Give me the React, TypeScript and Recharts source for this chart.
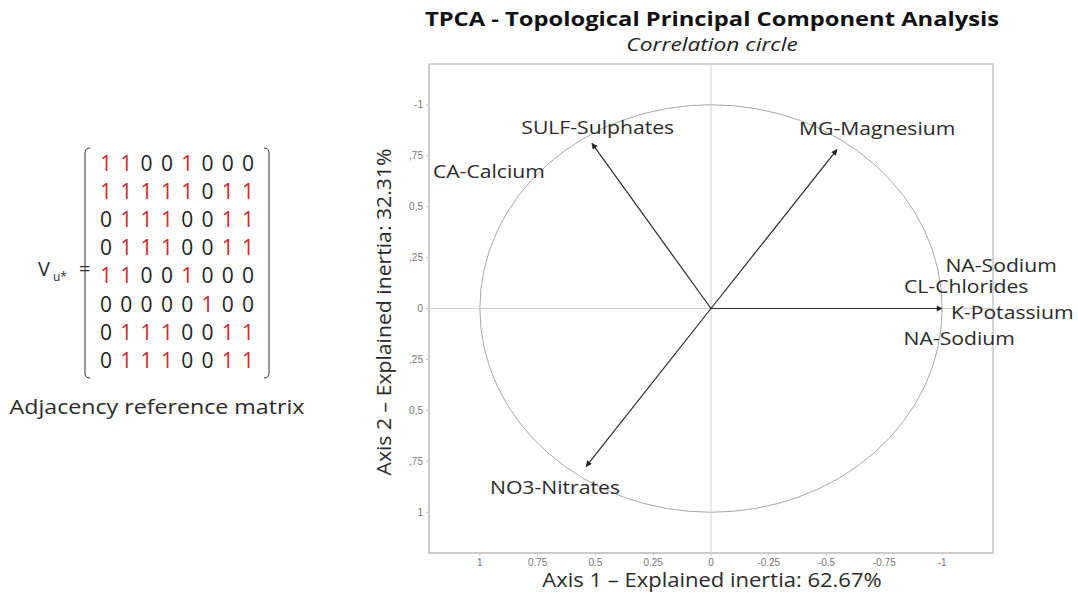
import React from 'react';
import {
  ComposedChart, XAxis, YAxis, Scatter, ReferenceLine, ReferenceArea, ReferenceDot,
} from 'recharts';

// ---- data ----
const vectorNames = ['SULF-Sulphates', 'MG-Magnesium', 'K-Potassium', 'NO3-Nitrates'];
const vectorX = [0.515, -0.545, -1.0, 0.54];
const vectorY = [-0.81, -0.78, 0.0, 0.775];

const labelTexts = ['SULF-Sulphates', 'CA-Calcium', 'MG-Magnesium', 'NA-Sodium', 'CL-Chlorides', 'K-Potassium', 'NA-Sodium', 'NO3-Nitrates'];
const labelX = [0.49, 0.961, -0.719, -1.255, -1.104, -1.303, -1.074, 0.675];
const labelY = [-0.892, -0.672, -0.887, -0.211, -0.108, 0.02, 0.147, 0.877];

const tickValues = [1, 0.75, 0.5, 0.25, 0, -0.25, -0.5, -0.75, -1];
const xTickLabels = ['1', '0.75', '0.5', '0.25', '0', '-0.25', '-0.5', '-0.75', '-1'];
const yTickValues = [-1, -0.75, -0.5, -0.25, 0, 0.25, 0.5, 0.75, 1];
const yTickLabels = ['-1', ',75', '0,5', ',25', '0', ',25', '0,5', ',75', '1'];

const matrix = [
  [1, 1, 0, 0, 1, 0, 0, 0],
  [1, 1, 1, 1, 1, 0, 1, 1],
  [0, 1, 1, 1, 0, 0, 1, 1],
  [0, 1, 1, 1, 0, 0, 1, 1],
  [1, 1, 0, 0, 1, 0, 0, 0],
  [0, 0, 0, 0, 0, 1, 0, 0],
  [0, 1, 1, 1, 0, 0, 1, 1],
  [0, 1, 1, 1, 0, 0, 1, 1],
];

const title = 'TPCA - Topological Principal Component Analysis';
const subtitle = 'Correlation circle';
const xTitle = 'Axis 1 \u2013 Explained inertia: 62.67%';
const yTitle = 'Axis 2 \u2013 Explained inertia: 32.31%';
const matrixCaption = 'Adjacency reference matrix';

const vectors = vectorNames.map((n, i) => ({ name: n, x: vectorX[i], y: vectorY[i] }));
const labels = labelTexts.map((t, i) => ({ text: t, x: labelX[i], y: labelY[i] }));

const FONT = "'Open Sans', sans-serif";
const RED = '#d2282e';
const TXT = '#2b2b2b';

export default function App() {
  return (
    <div style={{ position: 'absolute', left: 0, top: 0, width: 1078, height: 598, background: '#fff', fontFamily: FONT }}>
      <svg width={0} height={0} style={{ position: 'absolute' }}>
        <defs>
          <marker id="arr" viewBox="0 0 10 10" refX="9" refY="5" markerWidth="6" markerHeight="5" orient="auto">
            <path d="M0,0 L10,5 L0,10 z" fill="#222" />
          </marker>
        </defs>
      </svg>
      <div style={{ position: 'absolute', left: 0, top: 0 }}>
        <ComposedChart width={1078} height={598} margin={{ top: 64, right: 85, bottom: 25, left: 399 }}>
          <XAxis
            type="number"
            dataKey="x"
            domain={[-1.22, 1.22]}
            reversed
            ticks={tickValues}
            interval={0}
            tickFormatter={(v: number) => xTickLabels[tickValues.indexOf(v)] ?? String(v)}
            tick={{ fontSize: 10, fill: '#777', fontFamily: 'Liberation Sans, Arial' }}
            tickLine={{ stroke: '#ccc' }}
            tickSize={3}
            tickMargin={3}
            axisLine={{ stroke: '#c8c8c8', strokeWidth: 1.5 }}
            height={20}
            allowDataOverflow
          />
          <YAxis
            type="number"
            dataKey="y"
            domain={[-1.2, 1.2]}
            reversed
            ticks={yTickValues}
            interval={0}
            tickFormatter={(v: number) => yTickLabels[yTickValues.indexOf(v)] ?? String(v)}
            tick={{ fontSize: 10, fill: '#777', fontFamily: 'Liberation Sans, Arial' }}
            tickLine={{ stroke: '#ccc' }}
            tickSize={3}
            tickMargin={3}
            axisLine={{ stroke: '#c8c8c8', strokeWidth: 1.5 }}
            width={30}
            allowDataOverflow
          />
          <ReferenceArea x1={-1.22} x2={1.22} y1={-1.2} y2={1.2} fill="none" stroke="#c8c8c8" strokeWidth={1.5} ifOverflow="visible" />
          <ReferenceLine x={0} stroke="#d0d0d0" strokeWidth={1} />
          <ReferenceLine y={0} stroke="#d0d0d0" strokeWidth={1} />
          <ReferenceArea
            x1={-1}
            x2={1}
            y1={-1}
            y2={1}
            ifOverflow="visible"
            shape={(p: any) => (
              <ellipse
                cx={p.x + p.width / 2}
                cy={p.y + p.height / 2}
                rx={Math.abs(p.width) / 2}
                ry={Math.abs(p.height) / 2}
                fill="none"
                stroke="#a8a8a8"
                strokeWidth={1}
              />
            )}
          />
          {vectors.map((v) => (
            <ReferenceLine
              key={v.name}
              segment={[{ x: 0, y: 0 }, { x: v.x, y: v.y }]}
              ifOverflow="visible"
              shape={(p: any) => (
                <line x1={p.x1} y1={p.y1} x2={p.x2} y2={p.y2} stroke="#2a2a2a" strokeWidth={1.2} markerEnd="url(#arr)" />
              )}
            />
          ))}
          {labels.map((l, i) => (
            <ReferenceDot
              key={i}
              x={l.x}
              y={l.y}
              r={0}
              ifOverflow="visible"
              shape={(p: any) => (
                <text
                  transform={`translate(${p.cx},${p.cy}) scale(1.21,1)`}
                  textAnchor="middle"
                  dominantBaseline="central"
                  fontSize={17.5}
                  fill={TXT}
                  fontFamily={FONT}
                >
                  {l.text}
                </text>
              )}
            />
          ))}
          <Scatter data={vectors} dataKey="y" shape={() => null} isAnimationActive={false} />
        </ComposedChart>
      </div>
      <svg width={1078} height={598} style={{ position: 'absolute', left: 0, top: 0, pointerEvents: 'none' }}>
        <text transform="translate(712,26) scale(1.25,1)" textAnchor="middle" fontSize={19} fontWeight="bold" fill="#111" fontFamily={FONT}>{title}</text>
        <text transform="translate(712,51) scale(1.3,1)" textAnchor="middle" fontSize={17.5} fontStyle="italic" fill="#222" fontFamily={FONT}>{subtitle}</text>
        <text transform="translate(712,587) scale(1.1,1)" textAnchor="middle" fontSize={20} fill={TXT} fontFamily={FONT}>{xTitle}</text>
        <text transform="translate(391,312) rotate(-90) scale(1.06,1)" textAnchor="middle" fontSize={20} fill={TXT} fontFamily={FONT}>{yTitle}</text>

        {/* matrix */}
        <text x={38} y={276} fontSize={20} fill={TXT} fontFamily={FONT}>V</text>
        <text x={53} y={281} fontSize={12} fill={TXT} fontFamily={FONT}>u*</text>
        <text x={79} y={276} fontSize={20} fill={TXT} fontFamily={FONT}>=</text>
        <path d="M90,148 Q85,148 85,153 L85,373 Q85,378 90,378" fill="none" stroke="#333" strokeWidth={1} />
        <path d="M264,148 Q269,148 269,153 L269,373 Q269,378 264,378" fill="none" stroke="#333" strokeWidth={1} />
        {matrix.map((row, r) =>
          row.map((v, c) => (
            <text
              key={`${r}-${c}`}
              x={106 + c * 20.3}
              y={171 + r * 28.1}
              textAnchor="middle"
              fontSize={21}
              fill={v === 1 ? RED : '#222'}
              fontFamily={FONT}
            >
              {v}
            </text>
          ))
        )}
        <text transform="translate(157,414) scale(1.16,1)" textAnchor="middle" fontSize={20} fill={TXT} fontFamily={FONT}>{matrixCaption}</text>
      </svg>
    </div>
  );
}
